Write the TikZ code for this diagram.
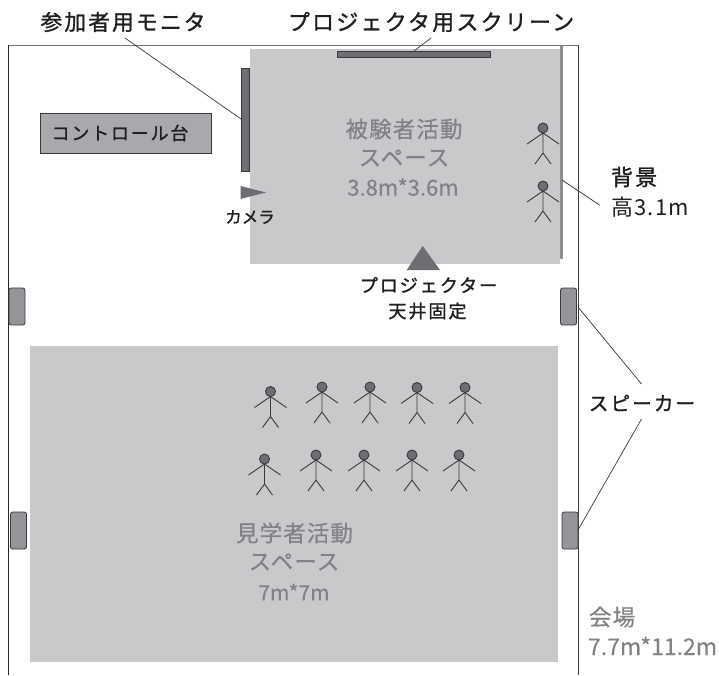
\documentclass[tikz,border=0pt]{standalone}
\usepackage{fontspec}
\newfontfamily\cjk[FakeBold=0.3]{Noto Sans CJK JP}
\newfontfamily\cjkn[LetterSpace=6]{Noto Sans CJK JP}
\newfontfamily\cjkm[FakeBold=1.2,LetterSpace=10]{Noto Sans CJK JP}
\newfontfamily\cjkc[FakeBold=1.2]{Noto Sans CJK JP}
\newfontfamily\cjkg[FakeBold=0.5,LetterSpace=5]{Noto Sans CJK JP}
\definecolor{areagray}{HTML}{C8C9CB}
\definecolor{txtgray}{HTML}{808285}
\definecolor{darkfill}{HTML}{6D6E71}
\definecolor{ctrlfill}{HTML}{A7A9AC}
\definecolor{spkfill}{HTML}{939598}
\definecolor{ink}{HTML}{3A3A3C}
\tikzset{
  box/.style={draw=none,inner sep=0pt,outer sep=0pt,anchor=center},
  area/.style={box,fill=areagray},
  device/.style={box,draw=ink,line width=0.8pt,fill=darkfill},
  speaker/.style={box,draw=ink,line width=0.8pt,fill=spkfill,rounded corners=2.2pt,minimum width=16pt,minimum height=37pt},
  leader/.style={draw=ink,line width=0.7pt},
  label/.style={inner sep=0pt,outer sep=0pt,text=black!88,align=center},
  glabel/.style={inner sep=0pt,outer sep=0pt,text=txtgray,align=center},
  persona/.pic={
    \draw[ink,line width=0.9pt] (0,5) -- (0,25) (-16,16) -- (0,5) -- (16,16) (-8,36) -- (0,25) -- (8,36);
    \draw[ink,line width=0.9pt,fill=darkfill] (0,0) circle (5pt);
  }
}
\begin{document}
\begin{tikzpicture}[x=1pt,y=-1pt]
\useasboundingbox (0,0) rectangle (719,675);
\fill[white] (0,0) rectangle (719,675);
% floor areas
\node[area,minimum width=310.5pt,minimum height=215pt] (stage) at (404.75,156.5) {};
\node[area,minimum width=528pt,minimum height=316.5pt] (audience) at (294,503.75) {};
% room
\draw[black!55,line width=1pt] (8.5,45) -- (578,45);
\draw[black!85,line width=1pt] (8.5,45) -- (8.5,675);
\draw[black!75,line width=0.9pt] (578,45) -- (578,675);
% backdrop
\node[box,fill=black!45,minimum width=3.5pt,minimum height=214pt] (backdrop) at (561.5,152) {};
% devices
\node[device,minimum width=153pt,minimum height=6pt] (screen) at (413.5,54) {};
\node[device,minimum width=8.5pt,minimum height=102.5pt] (monitor) at (245.25,119.75) {};
\node[box,draw=ink,line width=0.8pt,fill=ctrlfill,minimum width=171.5pt,minimum height=40pt] (ctrl) at (125.75,133) {};
\node[speaker] (spkLT) at (17,306.5) {};
\node[speaker] (spkRT) at (568.5,306.5) {};
\node[speaker] (spkLB) at (18.5,530.5) {};
\node[speaker] (spkRB) at (570,530.5) {};
\fill[darkfill] (240.5,186) -- (240.5,199) -- (266,192.5) -- cycle;
\fill[darkfill] (422.7,246) -- (406.7,270) -- (440,270) -- cycle;
% people
\foreach \px/\py in {543/128,543/186,270.5/391.5,322/387,370/387,417/387.5,465/387.5,264.5/459,316/455,364/455,412/455,459/455}
  \pic at (\px,\py) {persona};
% labels
\node[label,font=\cjkm\fontsize{21.7}{24}\selectfont] (lMon) at (123,22) {参加者用モニタ};
\node[label,font=\cjkm\fontsize{22}{24}\selectfont] (lScr) at (431,22) {プロジェクタ用スクリーン};
\node[label,font=\cjkm\fontsize{18}{20}\selectfont] (lCtrl) at (120,133) {コントロール台};
\node[label,font=\cjkc\fontsize{16.5}{18}\selectfont] (lCam) at (250,217) {カメラ};
\node[label,font=\cjkm\fontsize{18.2}{20}\selectfont] (lProj) at (428.5,285) {プロジェクター};
\node[label,font=\cjkm\fontsize{18.2}{20}\selectfont] (lCeil) at (427.5,311) {天井固定};
\node[label,font=\cjkm\fontsize{22}{24}\selectfont,anchor=west] (lBack) at (611,177) {背景};
\node[label,font=\cjkn\fontsize{22}{24}\selectfont,anchor=west] (lBackH) at (611,207) {高3.1m};
\node[label,font=\cjkm\fontsize{19.7}{22}\selectfont] (lSpk) at (642,403) {スピーカー};
\node[glabel,font=\cjkg\fontsize{22.5}{26}\selectfont] (s1) at (404,129) {被験者活動};
\node[glabel,font=\cjkg\fontsize{22.5}{26}\selectfont] (s2) at (404,158) {スペース};
\node[glabel,font=\cjk\fontsize{22}{24}\selectfont] (s3) at (403,187) {3.8m*3.6m};
\node[glabel,font=\cjkg\fontsize{22.5}{26}\selectfont] (a1) at (294.5,533) {見学者活動};
\node[glabel,font=\cjkg\fontsize{22.5}{26}\selectfont] (a2) at (294,562) {スペース};
\node[glabel,font=\cjk\fontsize{21}{24}\selectfont] (a3) at (294,592) {7m*7m};
\node[glabel,font=\cjkg\fontsize{22.5}{26}\selectfont,anchor=west] (r1) at (589,617) {会場};
\node[glabel,font=\cjk\fontsize{23}{25}\selectfont,anchor=west] (r2) at (588,646) {7.7m*11.2m};
% connector ends
\coordinate (cMon) at (125,38);
\coordinate (cMonEnd) at (241,119);
\coordinate (cScr) at (431,38);
\coordinate (cScrEnd) at (414,51);
\coordinate (cBack) at (562,180);
\coordinate (cBackEnd) at (599.5,205);
\coordinate (cSpkA) at (641.5,384);
\coordinate (cSpkB) at (641.5,419);
\coordinate (cSpkTEnd) at (578,307);
\coordinate (cSpkBEnd) at (578,530);
\draw[leader] (cMon) -- (cMonEnd);
\draw[leader] (cScr) -- (cScrEnd);
\draw[leader] (cBack) -- (cBackEnd);
\draw[leader] (cSpkA) -- (cSpkTEnd);
\draw[leader] (cSpkB) -- (cSpkBEnd);
\end{tikzpicture}
\end{document}
